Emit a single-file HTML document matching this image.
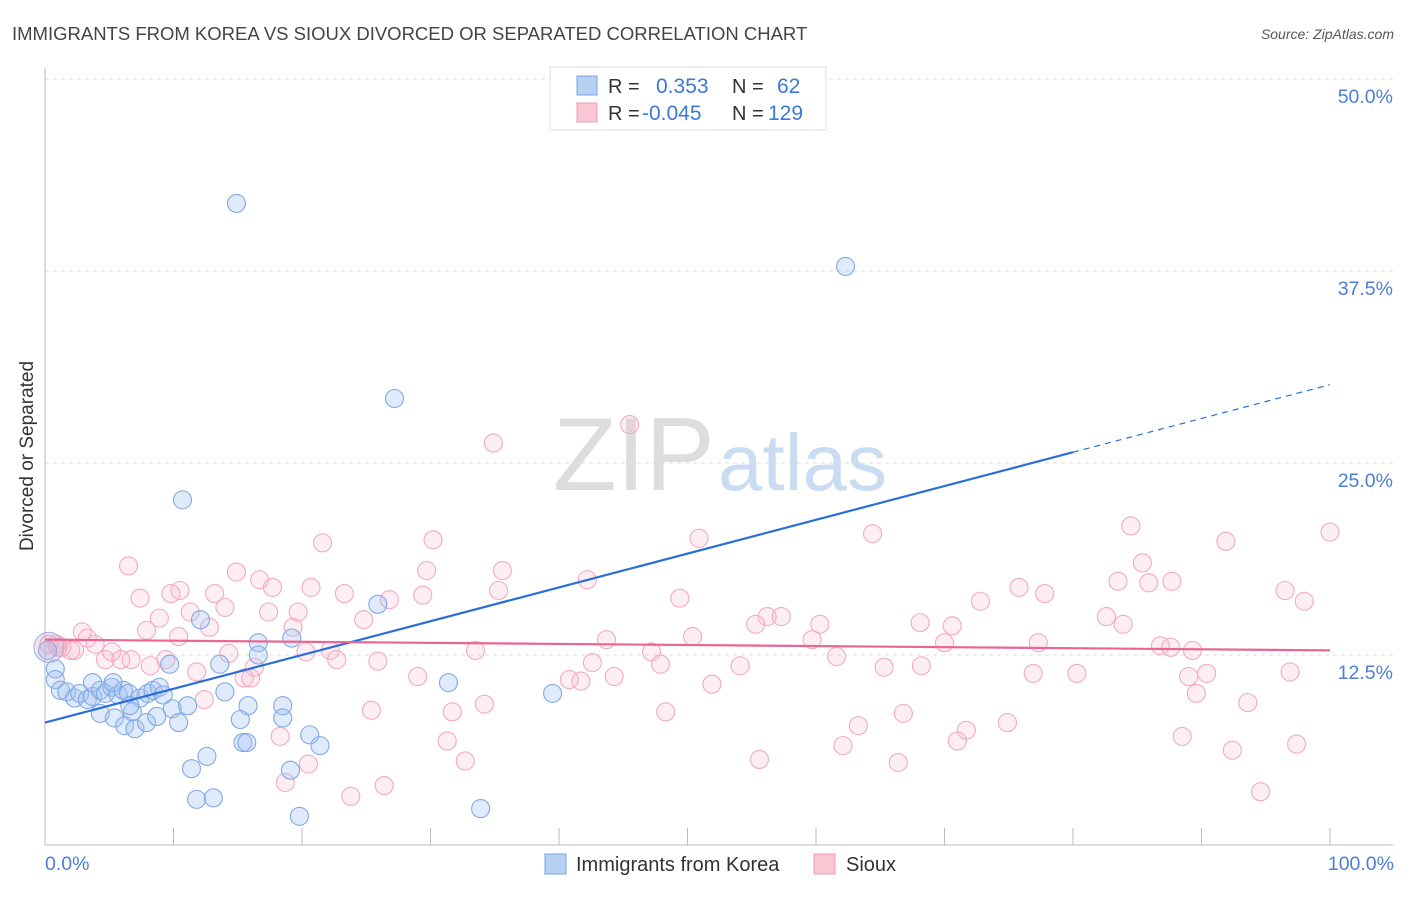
<!DOCTYPE html>
<html><head><meta charset="utf-8"><style>
body{margin:0;background:#fff;font-family:"Liberation Sans",sans-serif;}
svg text{font-family:"Liberation Sans",sans-serif;}
</style></head><body>
<svg id="chart" width="1406" height="892">
<text x="12" y="40" font-size="18.5" fill="#444">IMMIGRANTS FROM KOREA VS SIOUX DIVORCED OR SEPARATED CORRELATION CHART</text>
<text x="1394" y="39" font-size="14" fill="#555" font-style="italic" text-anchor="end">Source: ZipAtlas.com</text>
<g>
<text x="553" y="490" font-size="104" fill="#ddd" font-family="Liberation Serif">ZIP</text>
<text x="718" y="490" font-size="80" fill="#c9dcf2">atlas</text>
</g>
<g id="grid"></g>
<g id="axes"></g>
<g id="pinkPts"></g>
<g id="bluePts"></g>
<g id="lines"></g>
<text x="33" y="456" font-size="19" fill="#333" transform="rotate(-90 33 456)" text-anchor="middle">Divorced or Separated</text>
<text x="45" y="870" font-size="19.5" fill="#4a7fd4">0.0%</text>
<text x="1394" y="870" font-size="19.5" fill="#4a7fd4" text-anchor="end">100.0%</text>
<g>
<rect x="550" y="67" width="276" height="63" fill="#fff" stroke="#ddd"/>
<rect x="577" y="76" width="20" height="19" fill="#b9d0f5" stroke="#7aa5e6"/>
<rect x="577" y="103" width="20" height="19" fill="#f9c6d6" stroke="#f09ab5"/>
<text x="608" y="93" font-size="20" fill="#333">R = </text><text x="656" y="93" font-size="21" fill="#3b78d8">0.353</text>
<text x="732" y="93" font-size="20" fill="#333">N = </text><text x="777" y="93" font-size="21" fill="#3b78d8">62</text>
<text x="608" y="120" font-size="20" fill="#333">R = </text><text x="642" y="120" font-size="21" fill="#3b78d8">-0.045</text>
<text x="732" y="120" font-size="20" fill="#333">N = </text><text x="768" y="120" font-size="21" fill="#3b78d8">129</text>
</g>
<g>
<rect x="545" y="854" width="21" height="20" fill="#b9d0f5" stroke="#7aa5e6"/>
<text x="576" y="871" font-size="20" fill="#333">Immigrants from Korea</text>
<rect x="814" y="854" width="21" height="20" fill="#f9c6d6" stroke="#f09ab5"/>
<text x="846" y="871" font-size="20" fill="#333">Sioux</text>
</g>
</svg>
<script>
const yTicks=[12.5,25,37.5,50];
const yTickLabels=["12.5%","25.0%","37.5%","50.0%"];
const xTicks=[0,10,20,30,40,50,60,70,80,90,100];
const koreaX=[14.9,62.3,27.2,10.7,25.9,12.1,16.6,19.2,16.6,13.6,9.7,0.2,0.8,0.8,1.2,1.7,2.3,2.7,3.3,3.7,4.3,4.7,5.2,5.7,6.1,6.5,7.4,8.0,8.4,8.9,9.2,4.3,5.4,6.2,7.0,7.9,6.8,8.7,9.9,10.4,11.1,14.0,15.8,18.5,18.5,15.2,15.4,15.7,20.6,21.4,11.4,12.6,19.1,11.8,13.1,19.8,33.9,31.4,39.5,3.7,5.3,6.6];
const koreaY=[41.9,37.8,29.2,22.6,15.8,14.8,13.3,13.6,12.5,11.9,11.9,12.8,11.6,10.9,10.2,10.1,9.7,10.0,9.6,9.8,10.2,10.0,10.4,9.9,10.2,10.0,9.7,10.0,10.2,10.4,9.9,8.7,8.4,7.9,7.7,8.1,8.8,8.5,9.0,8.1,9.2,10.1,9.2,9.2,8.4,8.3,6.8,6.8,7.3,6.6,5.1,5.9,5.0,3.1,3.2,2.0,2.5,10.7,10.0,10.7,10.7,9.2];
const siouxX=[45.5,34.9,84.5,100,64.4,50.9,91.9,21.6,30.2,85.4,6.5,14.9,29.7,35.6,42.2,16.7,83.5,85.9,87.7,75.8,10.5,17.7,20.7,23.3,35.3,77.8,96.5,13.2,7.4,9.8,26.8,29.4,49.4,72.8,98.0,11.3,14.0,17.4,19.7,8.9,24.8,82.6,56.2,57.3,12.8,7.9,10.4,2.9,3.3,19.3,55.3,60.3,68.1,70.6,83.9,43.7,50.4,59.7,70.0,77.3,86.8,87.6,89.3,3.9,2.3,0.9,1.3,2.0,4.7,5.2,5.9,6.7,8.2,9.4,11.8,14.3,16.3,20.3,22.2,22.7,25.9,33.5,42.6,47.2,47.9,54.1,61.6,65.3,68.2,76.9,80.3,89.0,90.4,96.9,15.5,16.0,29.0,40.8,41.7,44.3,51.9,89.6,12.4,34.2,25.4,31.7,48.3,66.8,93.6,63.3,71.7,74.9,31.3,32.7,62.1,71.0,18.3,20.5,55.6,66.4,88.5,92.4,97.4,18.7,26.4,23.8,94.6,0.3,1.0];
const siouxY=[27.5,26.3,20.9,20.5,20.4,20.1,19.9,19.8,20.0,18.5,18.3,17.9,18.0,18.0,17.4,17.4,17.3,17.2,17.3,16.9,16.7,16.9,16.9,16.5,16.7,16.5,16.7,16.5,16.2,16.5,16.1,16.4,16.2,16.0,16.0,15.3,15.6,15.3,15.3,14.9,14.8,15.0,15.0,15.0,14.3,14.1,13.7,14.0,13.6,14.3,14.5,14.5,14.6,14.4,14.5,13.5,13.7,13.5,13.3,13.3,13.1,13.0,12.8,13.2,12.8,13.2,13.0,12.8,12.2,12.7,12.2,12.2,11.8,12.2,11.4,12.6,11.7,12.7,12.8,12.2,12.1,12.8,12.0,12.7,11.9,11.8,12.4,11.7,11.8,11.3,11.3,11.1,11.3,11.4,11.0,11.0,11.1,10.9,10.8,11.1,10.6,10.0,9.6,9.3,8.9,8.8,8.8,8.7,9.4,7.9,7.6,8.1,6.9,5.6,6.6,6.9,7.2,5.4,5.7,5.5,7.2,6.3,6.7,4.2,4.0,3.3,3.6,13.2,13.0];
const koreaTrend=[8.1,25.7];   // y at x=0 and x=80
const koreaTrendExt=30.1;       // y at x=100
const siouxTrend=[13.5,12.8];  // y at x=0 and x=100

const X0=45,X1=1330,Y0=847,PPU=15.36;
const sx=v=>X0+(X1-X0)*v/100;
const sy=v=>Y0-v*PPU;
const NS="http://www.w3.org/2000/svg";
function mk(tag,attrs,parent){const e=document.createElementNS(NS,tag);for(const k in attrs)e.setAttribute(k,attrs[k]);parent.appendChild(e);return e;}
const grid=document.getElementById('grid'),axes=document.getElementById('axes');
yTicks.forEach((t,i)=>{
  const l=mk('line',{x1:45,x2:1393,y1:sy(t),y2:sy(t),stroke:'#ddd','stroke-dasharray':'4,4'},grid);
  
  
  const tx=mk('text',{x:1393,y:sy(t)+24,'font-size':19.5,fill:'#4a7fd4','text-anchor':'end'},grid);
  tx.textContent=yTickLabels[i];
  
  
});
const ax=mk('line',{x1:45,x2:45,y1:68,y2:845,stroke:'#bbb'},axes);


const bx=mk('line',{x1:45,x2:1393,y1:845,y2:845,stroke:'#bbb'},axes);


xTicks.forEach(t=>{
  const l=mk('line',{x1:sx(t),x2:sx(t),y1:828,y2:845,stroke:'#bbb'},axes);
  
  
});
const pp=document.getElementById('pinkPts');
siouxX.forEach((x,i)=>{
  const c=mk('circle',{cx:sx(x),cy:sy(siouxY[i]),r:9,fill:'rgba(248,187,208,0.25)',stroke:'#f4a9c1','stroke-width':1.1},pp);
  
  
});
const bp=document.getElementById('bluePts');
koreaX.forEach((x,i)=>{
  const c=mk('circle',{cx:sx(x),cy:sy(koreaY[i]),r:9,fill:'rgba(164,196,244,0.35)',stroke:'#82a9e6','stroke-width':1.1},bp);
  
  
});
const big=mk('circle',{cx:sx(0.3),cy:sy(13.0),r:15,fill:'rgba(200,170,210,0.3)',stroke:'#a9b3e3','stroke-width':1.1},bp);


const ln=document.getElementById('lines');
const l1=mk('line',{x1:sx(0),y1:sy(koreaTrend[0]),x2:sx(80),y2:sy(koreaTrend[1]),stroke:'#2a6fd6','stroke-width':2.2},ln);


const l2=mk('line',{x1:sx(80),y1:sy(koreaTrend[1]),x2:sx(100),y2:sy(koreaTrendExt),stroke:'#2a6fd6','stroke-width':1.2,'stroke-dasharray':'6,5'},ln);


const l3=mk('line',{x1:sx(0),y1:sy(siouxTrend[0]),x2:sx(100),y2:sy(siouxTrend[1]),stroke:'#e8668f','stroke-width':2.2},ln);


</script>
</body></html>
